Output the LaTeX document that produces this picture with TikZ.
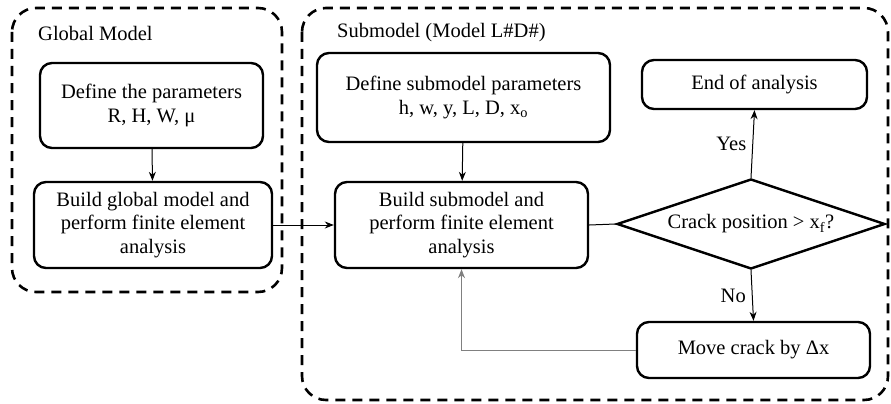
\documentclass[tikz,border=0pt]{standalone}
\usepackage{fontspec}
\setmainfont{Liberation Serif}
\usetikzlibrary{shapes.geometric,arrows.meta}
\begin{document}
\begin{tikzpicture}[x=1pt,y=-1pt,
  every node/.style={font=\fontsize{20.5}{23.5}\selectfont},
  proc/.style={draw,line width=2.4pt,rounded corners=12pt,align=center,inner sep=0pt},
  dec/.style={draw,diamond,line width=2.4pt,inner sep=0pt},
  grp/.style={draw,line width=2.6pt,dash pattern=on 10pt off 7pt,rounded corners=24pt},
  conn/.style={line width=1pt,-{Stealth[length=9pt,width=7pt]}},
  lbl/.style={inner sep=0pt}]
\useasboundingbox (0,0) rectangle (891,404);
% groups
\draw[grp] (12,8) rectangle (282,292);
\draw[grp] (302,8) rectangle (888,400);
\node[lbl,anchor=west] (gl) at (38,33) {Global Model};
\node[lbl,anchor=west] (sl) at (337,33) {Submodel (Model L\#D\#)};
% nodes
\node[proc,minimum width=223pt,minimum height=85pt] (b1) at (151.5,105.5) {Define the parameters\\R, H, W, μ};
\node[proc,minimum width=238pt,minimum height=86pt] (b2) at (153,225) {Build global model and\\perform finite element\\analysis};
\node[proc,minimum width=293pt,minimum height=89pt] (b3) at (463.5,97.5) {Define submodel parameters\\h, w, y, L, D, x\textsubscript{o}};
\node[proc,minimum width=253pt,minimum height=86pt] (b4) at (461.5,225) {Build submodel and\\perform finite element\\analysis};
\node[proc,minimum width=225pt,minimum height=49pt] (end) at (754.5,84.5) {End of analysis};
\node[dec,minimum width=268pt,minimum height=90pt] (d) at (751,224) {};
\node[lbl] (dt) at (751,224) {Crack position > x\textsubscript{f}?};
\node[proc,minimum width=233pt,minimum height=56pt] (mv) at (753.5,350) {Move crack by Δx};
% connectors
\draw[conn] (b1) -- (b2);
\draw[conn] (b3) -- (b4);
\draw[conn] (b2.east) -- (b4.west);
\draw[line width=1pt] (b4.east) -- (d.west);
\draw[conn] (d.north) -- node[lbl,left=6pt] (yes) {Yes} (end.south);
\draw[conn] (d.south) -- node[lbl,left=6pt] (no) {No} (mv.north);
\draw[conn,draw=gray] (mv.west) -| (b4.south);
\end{tikzpicture}
\end{document}
